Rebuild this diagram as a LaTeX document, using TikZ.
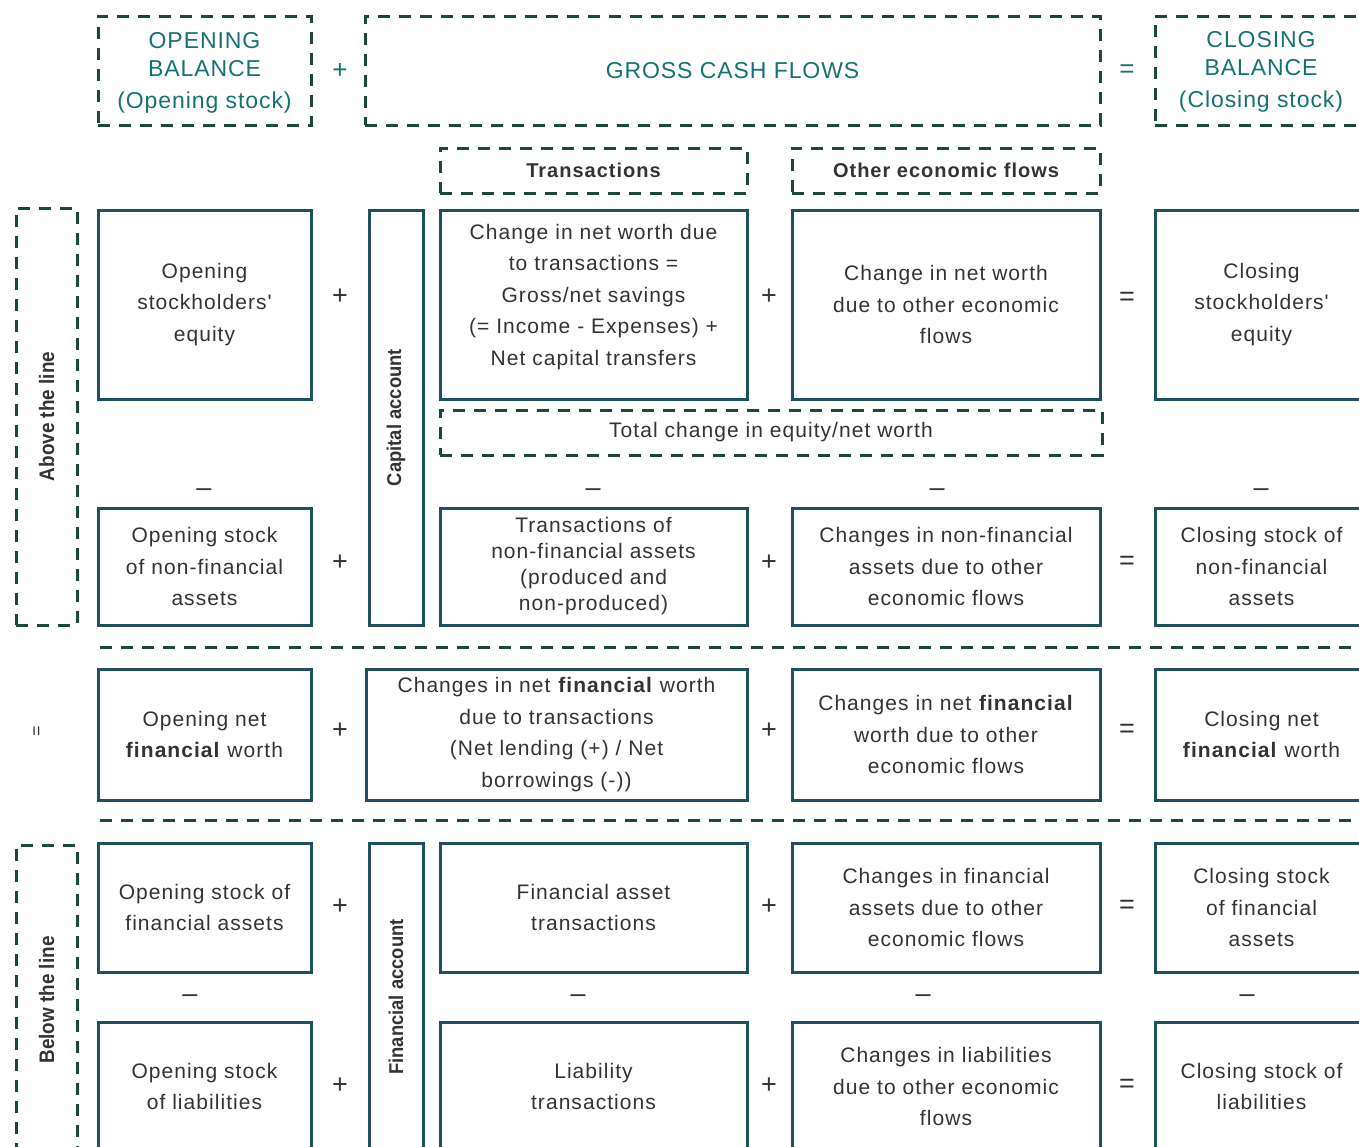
\documentclass[tikz,border=0pt]{standalone}
\usepackage{fontspec}
\setmainfont{Liberation Sans}
\newfontfamily\bodyf[LetterSpace=5]{Liberation Sans}
\newfontfamily\headf[LetterSpace=4]{Liberation Sans}
\newfontfamily\vertf{Liberation Sans}
\definecolor{dashc}{HTML}{1C4A38}
\definecolor{boxc}{HTML}{1E5062}
\definecolor{headc}{HTML}{167272}
\definecolor{txtc}{HTML}{333333}
\newcommand\mybox[7][]{\node[#1, minimum width={(#5)-(#3)}, minimum height={(#6)-(#4)}] (#2) at ({((#3)+(#5))/2},{((#4)+(#6))/2}) {#7};}
\tikzset{
  sbox/.style={draw=boxc, line width=3pt, inner sep=0pt, text=txtc, align=center,
    font=\bodyf\fontsize{21}{31.5}\selectfont},
  btxt/.style={inner sep=0pt, text=txtc, align=center, font=\bodyf\fontsize{21}{31.5}\selectfont},
  dbox/.style={draw=dashc, line width=3pt, dash pattern=on 12pt off 9pt, inner sep=0pt, align=center},
  headtxt/.style={text=headc, align=center, font=\headf\fontsize{23}{27.5}\selectfont},
  subhead/.style={text=txtc, font=\bodyf\bfseries\fontsize{20}{24}\selectfont},
  dline/.style={draw=dashc, line width=3pt, dash pattern=on 12pt off 9pt},
  sg/.style={text=txtc, inner sep=0pt, font=\vertf\fontsize{27}{27}\selectfont},
  hsg/.style={text=headc, inner sep=0pt, font=\vertf\fontsize{26}{26}\selectfont},
  vlab/.style={rotate=90, text=txtc, inner sep=0pt, font=\vertf\bfseries\fontsize{21}{21}\selectfont},
}
\begin{document}
\begin{tikzpicture}[x=1pt,y=-1pt]
\useasboundingbox (0,0) rectangle (1359,1146);
\clip (0,0) rectangle (1359,1146);
% top header row
\mybox[dbox]{ob}{98}{16}{311}{125}{}
\node[headtxt] (obt) at (204.5,73) {OPENING\\BALANCE\\[5pt](Opening stock)};
\mybox[dbox, headtxt]{gcf}{365}{16}{1100}{125}{GROSS CASH FLOWS}
\mybox[dbox]{cb}{1155}{16}{1390}{125}{}
\node[headtxt] (cbt) at (1261,72) {CLOSING\\BALANCE\\[5pt](Closing stock)};
\node[hsg] (hp) at (340,71) {+};
\node[hsg] (he) at (1127,71) {=};
% sub headers
\mybox[dbox, subhead]{trh}{440}{148}{747}{193}{Transactions}
\mybox[dbox, subhead]{oefh}{792}{148}{1100}{193}{Other economic flows}
% side labels
\mybox[dbox]{atl}{16}{208}{77}{625}{}
\node[vlab] at (atl.center) {\scalebox{0.9}[1]{Above the line}};
\mybox[dbox]{btl}{16}{845}{77}{1160}{}
\node[vlab] at (46.5,1000) {\scalebox{0.9}[1]{Below the line}};
% account boxes
\mybox[sbox]{cap}{369}{210}{423}{625}{}
\node[vlab, font=\vertf\bfseries\fontsize{20}{20}\selectfont] at (cap.center) {\scalebox{0.92}[1]{Capital account}};
\mybox[sbox]{fin}{369}{843}{423}{1151}{}
\node[vlab, font=\vertf\bfseries\fontsize{20}{20}\selectfont] at (396,997) {\scalebox{0.92}[1]{Financial account}};
% row 1
\mybox[sbox]{a1}{98}{210}{311}{399}{Opening\\stockholders'\\equity}
\mybox[sbox]{a3}{440}{210}{747}{399}{}
\node[btxt] (a3t) at (593.5,297) {Change in net worth due\\to transactions =\\Gross/net savings\\(= Income - Expenses) +\\Net capital transfers};
\mybox[sbox]{a4}{792}{210}{1100}{399}{Change in net worth\\due to other economic\\flows}
\mybox[sbox]{a5}{1155}{210}{1368}{399}{Closing\\stockholders'\\equity}
\node[sg] at (340,297) {+};
\node[sg] at (769,297) {+};
\node[sg] at (1127,299) {=};
\mybox[dbox, text=txtc, font=\bodyf\fontsize{21}{25}\selectfont]{tot}{440}{410}{1102}{455}{Total change in equity/net worth}
% minus row
\node[sg] at (204,493) {–};
\node[sg] at (593,493) {–};
\node[sg] at (937,493) {–};
\node[sg] at (1261,493) {–};
% row 2
\mybox[sbox]{b1}{98}{508}{311}{625}{Opening stock\\of non-financial\\assets}
\mybox[sbox, font=\bodyf\fontsize{21}{26}\selectfont]{b3}{440}{508}{747}{625}{Transactions of\\non-financial assets\\(produced and\\non-produced)}
\mybox[sbox]{b4}{792}{508}{1100}{625}{Changes in non-financial\\assets due to other\\economic flows}
\mybox[sbox]{b5}{1155}{508}{1368}{625}{Closing stock of\\non-financial\\assets}
\node[sg] at (340,563) {+};
\node[sg] at (769,563) {+};
\node[sg] at (1127,563) {=};
% dashed separator
\coordinate (l1a) at (100,647); \coordinate (l1b) at (1365,647);
\draw[dline] (l1a) -- (l1b);
% row 3
\node[sg, rotate=90, font=\vertf\fontsize{18}{18}\selectfont] at (38,731) {=};
\mybox[sbox]{c1}{98}{669}{311}{800}{Opening net\\\textbf{financial} worth}
\mybox[sbox]{c2}{366}{669}{747}{800}{Changes in net \textbf{financial} worth\\due to transactions\\(Net lending (+) / Net\\borrowings (-))}
\mybox[sbox]{c4}{792}{669}{1100}{800}{Changes in net \textbf{financial}\\worth due to other\\economic flows}
\mybox[sbox]{c5}{1155}{669}{1368}{800}{Closing net\\\textbf{financial} worth}
\node[sg] at (340,731) {+};
\node[sg] at (769,731) {+};
\node[sg] at (1127,731) {=};
\coordinate (l2a) at (100,820); \coordinate (l2b) at (1365,820);
\draw[dline] (l2a) -- (l2b);
% row 4
\mybox[sbox]{d1}{98}{843}{311}{972}{Opening stock of\\financial assets}
\mybox[sbox]{d3}{440}{843}{747}{972}{Financial asset\\transactions}
\mybox[sbox]{d4}{792}{843}{1100}{972}{Changes in financial\\assets due to other\\economic flows}
\mybox[sbox]{d5}{1155}{843}{1368}{972}{Closing stock\\of financial\\assets}
\node[sg] at (340,907) {+};
\node[sg] at (769,907) {+};
\node[sg] at (1127,907) {=};
\node[sg] at (190,999) {–};
\node[sg] at (578,999) {–};
\node[sg] at (923,999) {–};
\node[sg] at (1247,999) {–};
% row 5
\mybox[sbox]{e1}{98}{1022}{311}{1151}{Opening stock\\of liabilities}
\mybox[sbox]{e3}{440}{1022}{747}{1151}{Liability\\transactions}
\mybox[sbox]{e4}{792}{1022}{1100}{1151}{Changes in liabilities\\due to other economic\\flows}
\mybox[sbox]{e5}{1155}{1022}{1368}{1151}{Closing stock of\\liabilities}
\node[sg] at (340,1086) {+};
\node[sg] at (769,1086) {+};
\node[sg] at (1127,1086) {=};
\end{tikzpicture}
\end{document}
